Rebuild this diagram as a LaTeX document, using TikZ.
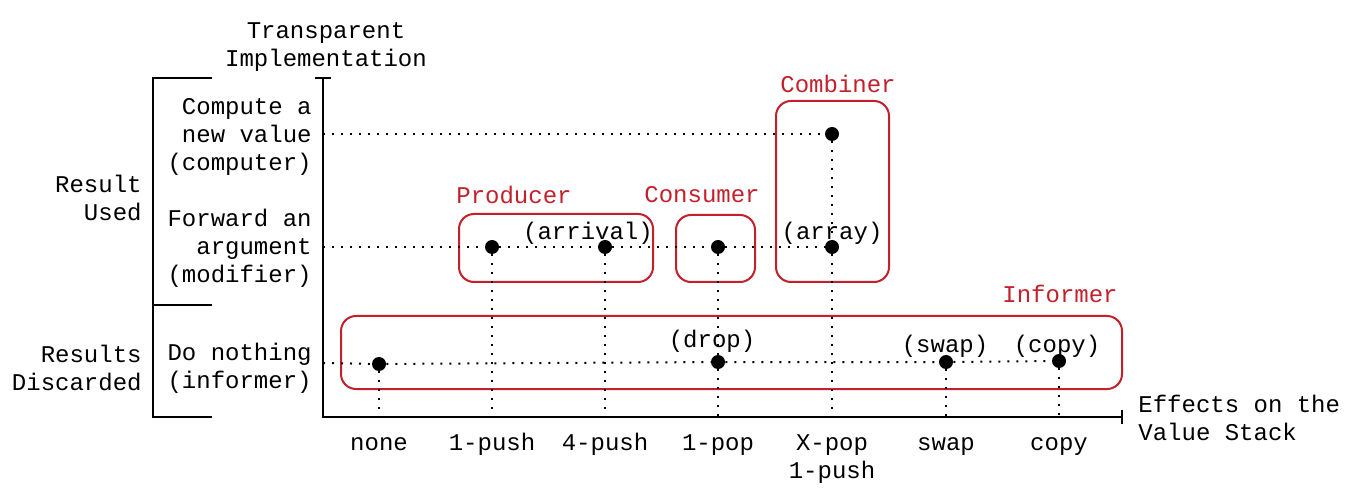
\documentclass[tikz,border=0pt]{standalone}
\usepackage{fontspec}
\setmonofont{Liberation Mono}
\usetikzlibrary{positioning}
\definecolor{groupred}{RGB}{196,32,44}
\tikzset{
    lbl/.style={font=\ttfamily\fontsize{12}{14}\selectfont, inner sep=0pt},
    grp/.style={draw=groupred, line width=1pt, rounded corners=7.5pt},
    grplbl/.style={lbl, text=groupred},
    pt/.style={circle, fill=black, inner sep=0pt, minimum size=7pt},
    guide/.style={line width=1pt, dash pattern=on 1pt off 3.5pt},
    axis/.style={line width=1.2pt},
}

\begin{document}
\begin{tikzpicture}[x=0.5pt,y=-0.5pt]
    \useasboundingbox (0,0) rectangle (1353,496);
    % axes and bracket
    \coordinate (o) at (323,417);
    \coordinate (ytop) at (323,78);
    \coordinate (xend) at (1122,417);
    \draw [axis] (ytop) -- (o) -- (xend);
    \draw [axis] ([xshift=-4pt]ytop) -- ([xshift=4pt]ytop);
    \draw [axis] ([yshift=-3.5pt]xend) -- ([yshift=3.5pt]xend);
    \coordinate (bt) at (212,78);
    \coordinate (bm) at (212,305);
    \coordinate (bb) at (212,417);
    \draw [axis] (bt) -| (153,417) -- (bb);
    \draw [axis] (153,305) -- (bm);
    \node [lbl, align=center] (ylabel) at (326,47) {Transparent\\Implementation};
    \node [lbl, align=left, anchor=west] (xlabel) at (1138,418) {Effects on the\\Value Stack};
    % row labels
    \node [lbl, align=right, anchor=east] (lcomp) at (312,137) {Compute a\\new value\\(computer)};
    \node [lbl, align=right, anchor=east] (lmod) at (312,248) {Forward an\\argument\\(modifier)};
    \node [lbl, align=right, anchor=east] (linf) at (312,368) {Do nothing\\(informer)};
    \node [lbl, align=right, anchor=east] (lused) at (142,198) {Result\\Used};
    \node [lbl, align=right, anchor=east] (ldisc) at (142,368) {Results\\Discarded};
    % row and column anchors
    \coordinate (rcomp) at (323,134);
    \coordinate (rmod) at (323,247);
    \coordinate (rinf) at (323,363);
    \foreach \name/\x/\txt in {none/379/none, pushone/492/1-push, pushfour/605/4-push,
        popone/718/1-pop, popx/832/X-pop\\1-push, swap/946/swap, copy/1059/copy} {
        \coordinate (c-\name) at (\x,417);
        \node [lbl, align=center, anchor=north] (t-\name) at (\x,430) {\strut\txt};
    }
    % groups
    \draw [grp] (459,214) rectangle (653,282);
    \draw [grp] (676,215) rectangle (755,282);
    \draw [grp] (776,101) rectangle (889,282);
    \draw [grp] (341,316) rectangle (1122,389);
    \node [grplbl] (gprod) at (514,195) {Producer};
    \node [grplbl] (gcons) at (702,195) {Consumer};
    \node [grplbl] (gcomb) at (838,84) {Combiner};
    \node [grplbl] (ginf) at (1060,294) {Informer};
    % points
    \node [pt] (comb) at (832,134) {};
    \node [pt] (prod1) at (492,247) {};
    \node [pt] (prod4) at (605,247) {};
    \node [pt] (cons) at (718,247) {};
    \node [pt] (arr) at (832,247) {};
    \node [pt] (inone) at (379,364) {};
    \node [pt] (drop) at (718,362) {};
    \node [pt] (swp) at (946,362) {};
    \node [pt] (cpy) at (1059,361) {};
    \node [lbl] (larrival) at (588,233) {(arrival)};
    \node [lbl] (larray) at (832,233) {(array)};
    \node [lbl] (ldrop) at (712,341) {(drop)};
    \node [lbl] (lswap) at (945,346) {(swap)};
    \node [lbl] (lcopy) at (1057,346) {(copy)};
    % guides
    \draw [guide] (rcomp) -- (comb);
    \draw [guide] (rmod) -- (prod1) -- (prod4) -- (cons) -- (arr);
    \draw [guide] (rinf) -- (inone) -- (drop) -- (swp) -- (cpy);
    \draw [guide] (comb) -- (arr) -- (c-popx);
    \draw [guide] (prod1) -- (c-pushone);
    \draw [guide] (prod4) -- (c-pushfour);
    \draw [guide] (cons) -- (drop) -- (c-popone);
    \draw [guide] (inone) -- (c-none);
    \draw [guide] (swp) -- (c-swap);
    \draw [guide] (cpy) -- (c-copy);
\end{tikzpicture}
\end{document}
